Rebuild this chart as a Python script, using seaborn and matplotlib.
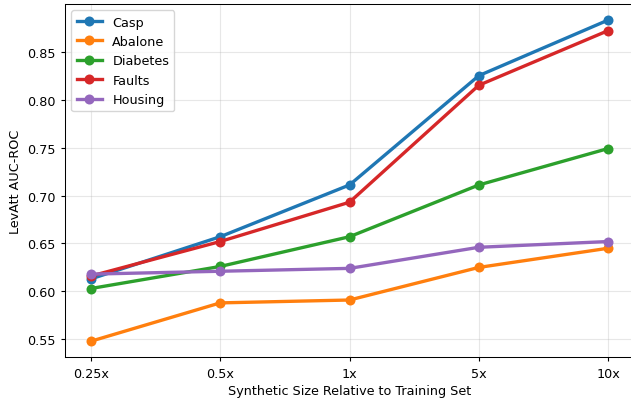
import matplotlib
matplotlib.use("Agg")
import matplotlib.pyplot as plt
import seaborn as sns
import pandas as pd

sizes = ["0.25x", "0.5x", "1x", "5x", "10x"]
casp = [0.613, 0.657, 0.711, 0.825, 0.883]
abalone = [0.548, 0.588, 0.591, 0.625, 0.645]
diabetes = [0.603, 0.626, 0.657, 0.711, 0.749]
faults = [0.616, 0.652, 0.693, 0.815, 0.872]
housing = [0.618, 0.621, 0.624, 0.646, 0.652]

series = {
    "Casp": casp,
    "Abalone": abalone,
    "Diabetes": diabetes,
    "Faults": faults,
    "Housing": housing,
}

rows = []
for name, vals in series.items():
    for i, (s, v) in enumerate(zip(sizes, vals)):
        rows.append({"pos": i, "size": s, "dataset": name, "auc": v})
df = pd.DataFrame(rows)

plt.rcParams.update({
    "font.size": 9.2,
    "xtick.major.size": 3.2,
    "ytick.major.size": 3.2,
    "axes.linewidth": 0.75,
})

fig = plt.figure(figsize=(6.31, 4.02), dpi=100)
ax = fig.add_axes([65 / 631, 1 - 358.3 / 402, 569 / 631, 353.3 / 402])
palette = ["#1f77b4", "#ff7f0e", "#2ca02c", "#d62728", "#9467bd"]
sns.lineplot(data=df, x="pos", y="auc", hue="dataset", palette=palette,
             marker="o", markersize=7.2, markeredgewidth=0, linewidth=2.4,
             sort=False, ax=ax)

ax.set_xticks(range(len(sizes)))
ax.set_xticklabels(sizes)
ax.set_xlim(-0.2, 4.2)
ax.set_xlabel("Synthetic Size Relative to Training Set", labelpad=3.5)
ax.set_ylabel("LevAtt AUC-ROC")
ax.grid(True, alpha=0.3)
ax.legend(title=None, loc="upper left")
fig.savefig("out.png", dpi=100)
